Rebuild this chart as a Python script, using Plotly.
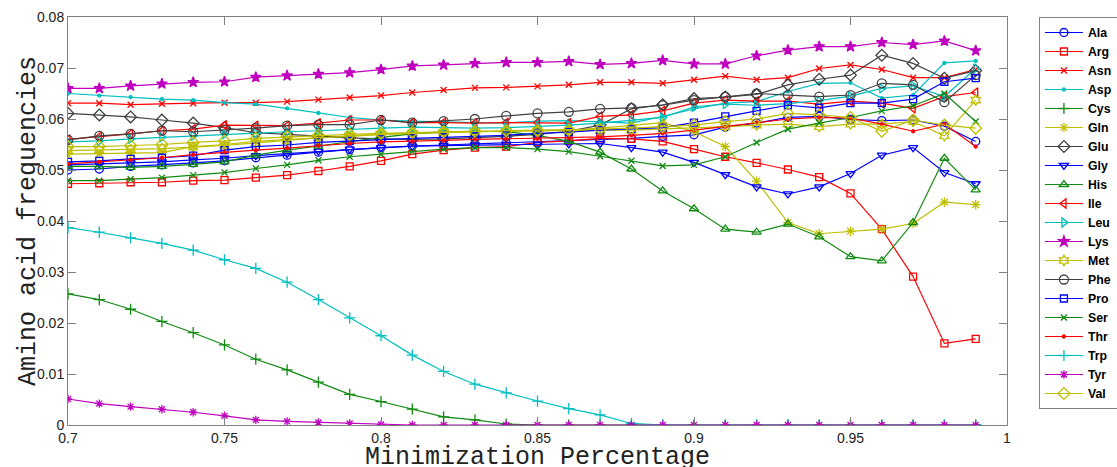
import plotly.graph_objects as go

x = [0.70, 0.71, 0.72, 0.73, 0.74, 0.75, 0.76, 0.77, 0.78, 0.79,
     0.80, 0.81, 0.82, 0.83, 0.84, 0.85, 0.86, 0.87, 0.88, 0.89,
     0.90, 0.91, 0.92, 0.93, 0.94, 0.95, 0.96, 0.97, 0.98, 0.99]

Ala = [0.0500, 0.0502, 0.0507, 0.0510, 0.0514, 0.0518, 0.0524, 0.0529, 0.0535, 0.0540,
       0.0544, 0.0547, 0.0549, 0.0551, 0.0553, 0.0555, 0.0557, 0.0559, 0.0562, 0.0566,
       0.0569, 0.0584, 0.0592, 0.0603, 0.0605, 0.0599, 0.0597, 0.0598, 0.0586, 0.0556]
Arg = [0.0473, 0.0474, 0.0476, 0.0476, 0.0479, 0.0480, 0.0485, 0.0490, 0.0498, 0.0507,
       0.0518, 0.0531, 0.0539, 0.0544, 0.0546, 0.0554, 0.0557, 0.0562, 0.0561, 0.0556,
       0.0541, 0.0526, 0.0514, 0.0501, 0.0486, 0.0454, 0.0384, 0.0291, 0.0160, 0.0169]
Asn = [0.0631, 0.0631, 0.0628, 0.0630, 0.0631, 0.0632, 0.0632, 0.0634, 0.0638, 0.0642,
       0.0646, 0.0652, 0.0657, 0.0661, 0.0662, 0.0664, 0.0667, 0.0672, 0.0672, 0.0670,
       0.0677, 0.0684, 0.0677, 0.0681, 0.0699, 0.0706, 0.0697, 0.0681, 0.0681, 0.0697]
Asp = [0.0650, 0.0646, 0.0643, 0.0639, 0.0637, 0.0632, 0.0629, 0.0621, 0.0612, 0.0603,
       0.0598, 0.0596, 0.0594, 0.0593, 0.0592, 0.0596, 0.0597, 0.0595, 0.0592, 0.0605,
       0.0620, 0.0631, 0.0634, 0.0654, 0.0670, 0.0671, 0.0641, 0.0647, 0.0710, 0.0714]
Cys = [0.0257, 0.0246, 0.0227, 0.0203, 0.0181, 0.0157, 0.0129, 0.0108, 0.0084, 0.0060,
       0.0046, 0.0031, 0.0016, 0.0010, 0.0002, 0.0, 0.0, 0.0, 0.0, 0.0,
       0.0, 0.0, 0.0, 0.0, 0.0, 0.0, 0.0, 0.0, 0.0, 0.0]
Gln = [0.0531, 0.0532, 0.0533, 0.0534, 0.0546, 0.0550, 0.0556, 0.0560, 0.0563, 0.0567,
       0.0570, 0.0572, 0.0573, 0.0575, 0.0576, 0.0577, 0.0578, 0.0582, 0.0588, 0.0593,
       0.0575, 0.0546, 0.0478, 0.0397, 0.0375, 0.0380, 0.0384, 0.0395, 0.0437, 0.0432]
Glu = [0.0611, 0.0608, 0.0604, 0.0598, 0.0592, 0.0583, 0.0573, 0.0570, 0.0566, 0.0563,
       0.0561, 0.0560, 0.0561, 0.0563, 0.0566, 0.0570, 0.0576, 0.0588, 0.0620, 0.0628,
       0.0640, 0.0643, 0.0648, 0.0667, 0.0678, 0.0686, 0.0725, 0.0709, 0.0680, 0.0695]
Gly = [0.0510, 0.0512, 0.0514, 0.0516, 0.0520, 0.0523, 0.0528, 0.0532, 0.0537, 0.0541,
       0.0544, 0.0547, 0.0548, 0.0549, 0.0550, 0.0550, 0.0551, 0.0552, 0.0544, 0.0535,
       0.0515, 0.0491, 0.0467, 0.0453, 0.0467, 0.0493, 0.0529, 0.0544, 0.0495, 0.0473]
His = [0.0507, 0.0507, 0.0505, 0.0507, 0.0511, 0.0516, 0.0529, 0.0539, 0.0547, 0.0556,
       0.0564, 0.0571, 0.0575, 0.0576, 0.0575, 0.0568, 0.0556, 0.0535, 0.0502, 0.0459,
       0.0424, 0.0384, 0.0378, 0.0394, 0.0369, 0.0330, 0.0322, 0.0397, 0.0523, 0.0461]
Ile = [0.0560, 0.0565, 0.0571, 0.0577, 0.0580, 0.0588, 0.0587, 0.0587, 0.0592, 0.0598,
       0.0598, 0.0593, 0.0593, 0.0592, 0.0593, 0.0593, 0.0592, 0.0605, 0.0608, 0.0616,
       0.0631, 0.0637, 0.0635, 0.0635, 0.0629, 0.0635, 0.0631, 0.0621, 0.0644, 0.0652]
Leu = [0.0555, 0.0557, 0.0561, 0.0564, 0.0567, 0.0570, 0.0572, 0.0575, 0.0577, 0.0580,
       0.0582, 0.0584, 0.0583, 0.0582, 0.0583, 0.0585, 0.0588, 0.0592, 0.0598, 0.0603,
       0.0624, 0.0629, 0.0627, 0.0630, 0.0636, 0.0645, 0.0660, 0.0665, 0.0644, 0.0699]
Lys = [0.0660, 0.0660, 0.0665, 0.0669, 0.0672, 0.0673, 0.0682, 0.0685, 0.0688, 0.0691,
       0.0697, 0.0704, 0.0706, 0.0709, 0.0711, 0.0711, 0.0713, 0.0707, 0.0709, 0.0715,
       0.0708, 0.0708, 0.0724, 0.0735, 0.0742, 0.0742, 0.0750, 0.0746, 0.0753, 0.0734]
Met = [0.0538, 0.0539, 0.0540, 0.0542, 0.0545, 0.0548, 0.0553, 0.0558, 0.0563, 0.0566,
       0.0570, 0.0572, 0.0574, 0.0575, 0.0576, 0.0577, 0.0577, 0.0578, 0.0578, 0.0580,
       0.0582, 0.0585, 0.0588, 0.0590, 0.0585, 0.0590, 0.0590, 0.0595, 0.0567, 0.0637]
Phe = [0.0559, 0.0567, 0.0571, 0.0577, 0.0575, 0.0578, 0.0582, 0.0587, 0.0589, 0.0589,
       0.0598, 0.0593, 0.0596, 0.0600, 0.0606, 0.0611, 0.0614, 0.0620, 0.0622, 0.0627,
       0.0637, 0.0644, 0.0650, 0.0647, 0.0644, 0.0647, 0.0670, 0.0667, 0.0633, 0.0686]
Pro = [0.0516, 0.0518, 0.0522, 0.0524, 0.0528, 0.0539, 0.0546, 0.0549, 0.0554, 0.0557,
       0.0560, 0.0562, 0.0564, 0.0566, 0.0568, 0.0572, 0.0574, 0.0578, 0.0580, 0.0583,
       0.0593, 0.0605, 0.0616, 0.0627, 0.0622, 0.0631, 0.0631, 0.0639, 0.0673, 0.0680]
Ser = [0.0479, 0.0479, 0.0482, 0.0485, 0.0490, 0.0495, 0.0503, 0.0510, 0.0519, 0.0526,
       0.0531, 0.0536, 0.0541, 0.0544, 0.0544, 0.0541, 0.0536, 0.0527, 0.0518, 0.0508,
       0.0510, 0.0526, 0.0554, 0.0580, 0.0592, 0.0603, 0.0616, 0.0626, 0.0650, 0.0595]
Thr = [0.0512, 0.0516, 0.0520, 0.0524, 0.0530, 0.0535, 0.0539, 0.0543, 0.0548, 0.0552,
       0.0555, 0.0556, 0.0558, 0.0560, 0.0561, 0.0562, 0.0563, 0.0565, 0.0568, 0.0572,
       0.0578, 0.0585, 0.0593, 0.0600, 0.0603, 0.0602, 0.0590, 0.0576, 0.0590, 0.0546]
Trp = [0.0387, 0.0378, 0.0367, 0.0356, 0.0343, 0.0324, 0.0307, 0.0280, 0.0246, 0.0210,
       0.0175, 0.0137, 0.0105, 0.0080, 0.0063, 0.0047, 0.0032, 0.0020, 0.0003, 0.0,
       0.0, 0.0, 0.0, 0.0, 0.0, 0.0, 0.0, 0.0, 0.0, 0.0]
Tyr = [0.0051, 0.0042, 0.0036, 0.0031, 0.0025, 0.0018, 0.0010, 0.0007, 0.0005, 0.0003,
       0.0001, 0.0, 0.0, 0.0, 0.0, 0.0, 0.0, 0.0, 0.0, 0.0,
       0.0, 0.0, 0.0, 0.0, 0.0, 0.0, 0.0, 0.0, 0.0, 0.0]
Val = [0.0546, 0.0546, 0.0548, 0.0550, 0.0554, 0.0557, 0.0562, 0.0565, 0.0568, 0.0570,
       0.0572, 0.0574, 0.0575, 0.0576, 0.0577, 0.0577, 0.0578, 0.0580, 0.0582, 0.0585,
       0.0588, 0.0595, 0.0600, 0.0611, 0.0608, 0.0603, 0.0576, 0.0598, 0.0588, 0.0582]

names = ["Ala", "Arg", "Asn", "Asp", "Cys", "Gln", "Glu", "Gly", "His", "Ile",
         "Leu", "Lys", "Met", "Phe", "Pro", "Ser", "Thr", "Trp", "Tyr", "Val"]
series = [Ala, Arg, Asn, Asp, Cys, Gln, Glu, Gly, His, Ile,
          Leu, Lys, Met, Phe, Pro, Ser, Thr, Trp, Tyr, Val]
x_ticks = [0.7, 0.75, 0.8, 0.85, 0.9, 0.95, 1.0]
x_ticklabels = ["0.7", "0.75", "0.8", "0.85", "0.9", "0.95", "1"]
y_ticks = [0, 0.01, 0.02, 0.03, 0.04, 0.05, 0.06, 0.07, 0.08]
y_ticklabels = ["0", "0.01", "0.02", "0.03", "0.04", "0.05", "0.06", "0.07", "0.08"]

BLUE, RED, CYAN, GREEN = "#0000FF", "#FF0000", "#00BFBF", "#108A10"
YEL, MAG, GRAY = "#BFBF00", "#BF00BF", "#404040"
styles = {
    "Ala": (BLUE, "circle-open", 8),
    "Arg": (RED, "square-open", 7),
    "Asn": (RED, "x-thin-open", 6),
    "Asp": (CYAN, "circle", 3),
    "Cys": (GREEN, "cross-thin-open", 8),
    "Gln": (YEL, "asterisk-open", 8),
    "Glu": (GRAY, "diamond-open", 9),
    "Gly": (BLUE, "triangle-down-open", 8),
    "His": (GREEN, "triangle-up-open", 8),
    "Ile": (RED, "triangle-left-open", 8),
    "Leu": (CYAN, "triangle-right-open", 8),
    "Lys": (MAG, "star", 8),
    "Met": (YEL, "hexagram-open", 8),
    "Phe": (GRAY, "circle-open", 9),
    "Pro": (BLUE, "square-open", 7),
    "Ser": (GREEN, "x-thin-open", 6),
    "Thr": (RED, "circle", 3),
    "Trp": (CYAN, "cross-thin-open", 8),
    "Tyr": (MAG, "asterisk-open", 7),
    "Val": (YEL, "diamond-open", 9),
}

fig = go.Figure()
for name, ys in zip(names, series):
    col, sym, sz = styles[name]
    fig.add_trace(go.Scatter(
        x=x, y=ys, name=name, mode="lines+markers",
        line=dict(color=col, width=1.2),
        marker=dict(symbol=sym, size=sz, color=col,
                    line=dict(color=col, width=1.3)),
    ))

axis_common = dict(
    showgrid=False, zeroline=False, showline=True, linecolor="#808080",
    linewidth=1, mirror="ticks", ticks="inside", ticklen=8,
    tickcolor="#808080", tickfont=dict(family="Liberation Sans, Arial", size=14, color="#222222"),
)

fig.update_layout(
    width=1117, height=467,
    margin=dict(l=68, r=110, t=17, b=42, autoexpand=False),
    paper_bgcolor="white", plot_bgcolor="white",
    xaxis=dict(range=[0.7, 1.0], tickvals=x_ticks, ticktext=x_ticklabels, **axis_common),
    yaxis=dict(range=[0, 0.08], tickvals=y_ticks, ticktext=y_ticklabels, **axis_common),
    legend=dict(x=1.034, y=1.0, xanchor="left", yanchor="top",
                bordercolor="#808080", borderwidth=1, bgcolor="white",
                font=dict(family="Liberation Sans, Arial", size=12.3, color="black", weight="bold"),
                itemwidth=38, tracegroupgap=0),
    showlegend=True,
    annotations=[
        dict(text="Minimization Percentage", xref="paper", yref="paper",
             x=0.5, y=-0.079, xanchor="center", yanchor="middle", showarrow=False,
             font=dict(family="Liberation Mono, Courier New", size=25, color="#222222")),
        dict(text="Amino acid frequencies", xref="paper", yref="paper",
             x=-0.0426, y=0.5, xanchor="center", yanchor="middle", showarrow=False,
             textangle=-90,
             font=dict(family="Liberation Mono, Courier New", size=25, color="#222222")),
    ],
)

# remove the default page margin so the 1117x467 figure fills the window exactly
fig.write_html("out.html", config={"displayModeBar": False}, post_script=(
    "document.body.style.margin='0';"
    "document.documentElement.style.overflow='hidden';"
))
